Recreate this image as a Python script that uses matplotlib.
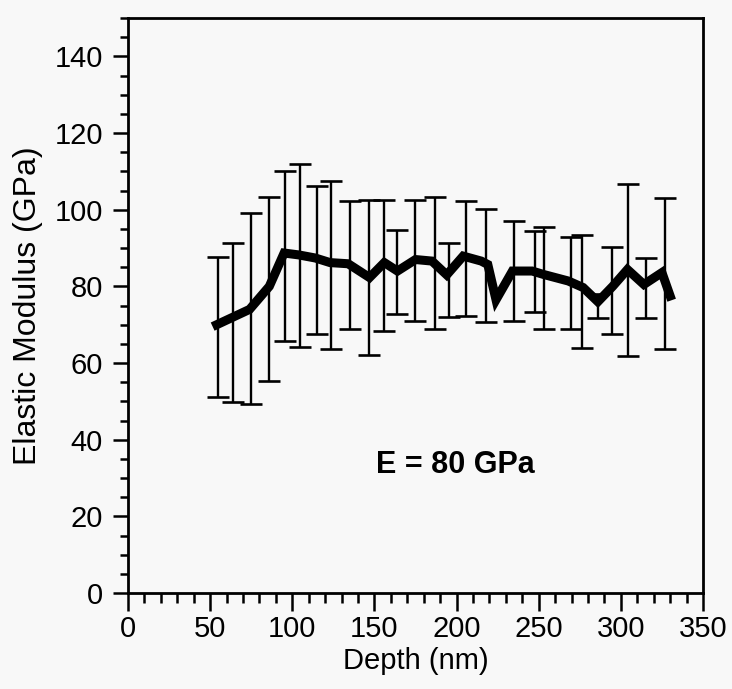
# Elastic modulus vs depth with error bars
import matplotlib
matplotlib.use("Agg")
import matplotlib.pyplot as plt
from matplotlib.ticker import MultipleLocator

plt.rcParams["font.family"] = ["Liberation Sans", "DejaVu Sans"]

# mean curve (depth nm, modulus GPa)
line_depth = [54, 64, 74, 86, 95, 104, 114, 123, 134, 147, 156, 164, 175, 185, 194,
              204, 215, 219, 224, 234, 246, 253, 268, 277, 286, 295, 304, 314, 325, 330]
line_modulus = [70, 72, 74, 80, 88.7, 88.2, 87.4, 86.2, 85.9, 82.3, 86.2, 84, 87, 86.6, 83,
                87.9, 86.6, 85.7, 76.5, 84, 84, 83.1, 81.4, 79.7, 76, 80, 84.4, 80.5, 83.6, 77.5]

# error bar ranges
bar_depth = [54.7, 63.9, 75.1, 85.7, 95.8, 104.6, 114.8, 123.5, 135, 146.7, 156.1, 163.6,
             174.8, 186.6, 195.5, 205.7, 218, 234.8, 247.7, 253.2, 269.4, 276.2, 286.3,
             294.9, 304.6, 315.6, 327]
bar_top = [87.6, 91.4, 99.2, 103.3, 110, 111.8, 106.1, 107.6, 102.2, 102.6, 102.6, 94.8,
           102.6, 103.3, 91.4, 102.2, 100.3, 97, 94.4, 95.4, 92.8, 93.5, 78.1,
           90.2, 106.7, 87.5, 103.1]
bar_bottom = [51.2, 49.8, 49.2, 55.2, 65.8, 64.2, 67.7, 63.6, 69, 62.2, 68.4, 72.9,
              71, 68.8, 71.9, 72.3, 70.6, 71, 73.2, 68.8, 68.8, 64, 71.7,
              67.5, 61.9, 71.7, 63.6]

fig = plt.figure(figsize=(7.32, 6.89), dpi=100)
fig.patch.set_facecolor("#f8f8f8")
ax = fig.add_axes([0.1749, 0.1393, 0.7855, 0.8345])
ax.set_facecolor("#f8f8f8")

mid = [(t + b) / 2 for t, b in zip(bar_top, bar_bottom)]
half = [(t - b) / 2 for t, b in zip(bar_top, bar_bottom)]
ax.errorbar(bar_depth, mid, yerr=half, fmt="none", ecolor="black",
            elinewidth=1.7, capsize=8, capthick=1.9)
ax.plot(line_depth, line_modulus, color="black", linewidth=6.5, solid_joinstyle="miter")

ax.text(199, 33.3, "E = 80 GPa", fontsize=22, fontweight="bold", ha="center", va="center")

ax.set_xlim(0, 350)
ax.set_ylim(0, 150)
ax.xaxis.set_major_locator(MultipleLocator(50))
ax.xaxis.set_minor_locator(MultipleLocator(10))
ax.yaxis.set_major_locator(MultipleLocator(20))
ax.yaxis.set_minor_locator(MultipleLocator(5))
ax.tick_params(which="both", direction="out", labelsize=21, width=1.8)
ax.tick_params(axis="x", which="major", length=13, pad=3)
ax.tick_params(axis="x", which="minor", length=7)
ax.tick_params(axis="y", which="major", length=11, pad=7)
ax.tick_params(axis="y", which="minor", length=6)
for s in ax.spines.values():
    s.set_linewidth(2)

ax.set_xlabel("Depth (nm)", fontsize=21, labelpad=3)
ax.set_ylabel("Elastic Modulus (GPa)", fontsize=23, labelpad=8)

plt.savefig("out.png", dpi=100, facecolor=fig.get_facecolor())
